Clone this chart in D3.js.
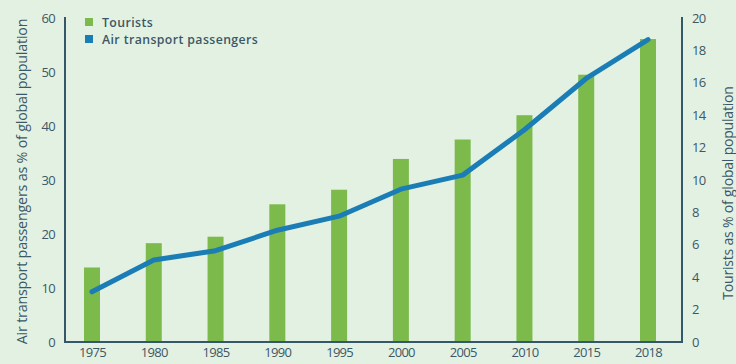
<!DOCTYPE html>
<html><head><meta charset="utf-8">
<script src="https://cdn.jsdelivr.net/npm/d3@7"></script>
<style>
html,body{margin:0;padding:0;background:#e3f1e3;}
svg{display:block;}
text{font-family:"Open Sans",sans-serif;fill:#3b5866;}
</style></head>
<body><svg id="c" width="736" height="364"></svg>
<script>
const years = ["1975","1980","1985","1990","1995","2000","2005","2010","2015","2018"];
const tourists = [4.6, 6.1, 6.5, 8.5, 9.4, 11.3, 12.5, 14.0, 16.5, 18.7];
const airPassengers = [9.3, 15.2, 16.9, 20.7, 23.3, 28.3, 30.9, 39.3, 48.8, 56.0];
const leftTicks = [0,10,20,30,40,50,60];
const rightTicks = [0,2,4,6,8,10,12,14,16,18,20];
const legendLabels = ["Tourists","Air transport passengers"];
const leftTitle = "Air transport passengers as % of global population";
const rightTitle = "Tourists as % of global population";

const svg = d3.select("#c");
const axisColor = "#34586a";
const green = "#7dba4c", blue = "#1a7db6";
const x0 = 65, x1 = 682, yTop = 17, yBot = 342;

const x = d3.scalePoint().domain(years).range([92, 648]);
const yL = d3.scaleLinear().domain([0,60]).range([yBot, 18]);
const yR = d3.scaleLinear().domain([0,20]).range([yBot, 18]);
const bw = 16;

// bars
svg.append("g").selectAll("rect").data(years).join("rect")
  .attr("x", d => x(d) - bw/2)
  .attr("y", (d,i) => yR(tourists[i]))
  .attr("width", bw)
  .attr("height", (d,i) => yBot - yR(tourists[i]))
  .attr("fill", green);

// line
const line = d3.line().x((d,i) => x(years[i])).y(d => yL(d));
svg.append("path").datum(airPassengers)
  .attr("d", line).attr("fill","none").attr("stroke", blue)
  .attr("stroke-width", 5).attr("stroke-linecap","round").attr("stroke-linejoin","round");

// axes lines
svg.append("path").attr("d", `M${x0},${yTop}V${yBot}H${x1}V${yTop}`)
  .attr("fill","none").attr("stroke", axisColor).attr("stroke-width", 2);

const gl = svg.append("g").attr("transform", `translate(${x0},0)`)
  .call(d3.axisLeft(yL).tickValues(leftTicks).tickSize(0).tickPadding(10));
const gr = svg.append("g").attr("transform", `translate(${x1},0)`)
  .call(d3.axisRight(yR).tickValues(rightTicks).tickSize(0).tickPadding(10));
const gx = svg.append("g").attr("transform", `translate(0,${yBot})`)
  .call(d3.axisBottom(x).tickSize(0).tickPadding(6));
[gl,gr,gx].forEach(g => {
  g.select(".domain").remove();
  g.selectAll("text").attr("font-family","'Open Sans',sans-serif")
    .attr("font-size", 13).attr("fill", "#3b5866").style("letter-spacing","-0.7px");
});

// axis titles
svg.append("text").attr("transform", `translate(27,${(yTop+yBot)/2 + 2}) rotate(-90)`)
  .attr("text-anchor","middle").attr("font-size", 14.3).style("letter-spacing","-0.2px")
  .text(leftTitle);
svg.append("text").attr("transform", `translate(733,${193}) rotate(-90)`)
  .attr("text-anchor","middle").attr("font-size", 14).style("letter-spacing","-0.2px")
  .text(rightTitle);

// legend
const lg = svg.append("g");
legendLabels.forEach((l,i) => {
  lg.append("rect").attr("x", 85).attr("y", 18 + i*17).attr("width", 8).attr("height", 8)
    .attr("fill", i === 0 ? green : blue);
  lg.append("text").attr("x", 102).attr("y", 27 + i*17).attr("font-size", 12.3)
    .attr("font-weight", 600).style("letter-spacing","0.4px").text(l);
});
</script></body></html>
